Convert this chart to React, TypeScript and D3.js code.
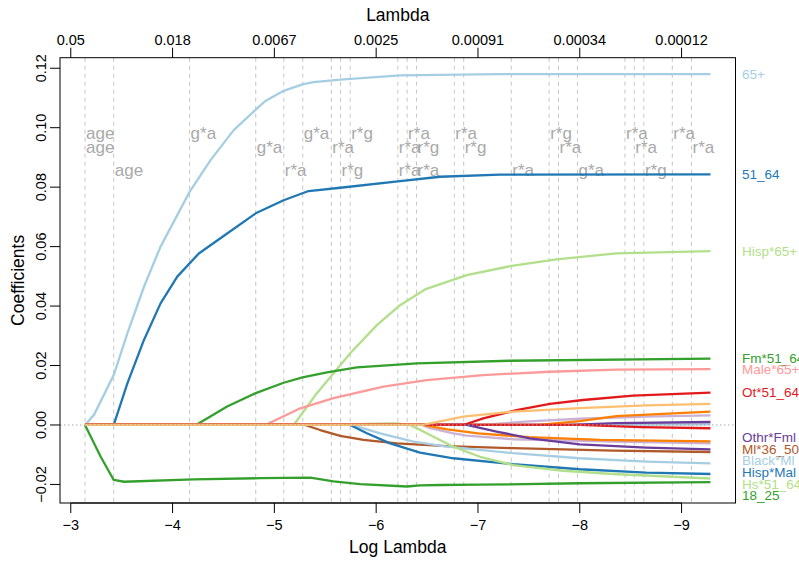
import React from "react";
import * as d3 from "d3";

// ---------- data ----------
const seriesNames: (string | null)[] = [
  "65+", "51_64", "Hisp*65+", "Fm*51_64", "Male*65+", "18_25",
  "Ml*36_50", "Black*Ml", "Hisp*Mal", "Hs*51_64",
  null, null, null, null, null, null, null,
  "Othr*Fml", "Ot*51_64", null,
];

const seriesColors = [
  "#a6cee3", "#1f78b4", "#b2df8a", "#33a02c", "#fb9a99", "#33a02c",
  "#b15928", "#a6cee3", "#1f78b4", "#b2df8a",
  "#a6cee3", "#cab2d6", "#6a3d9a", "#cab2d6", "#ff7f00", "#ff7f00", "#e31a1c",
  "#6a3d9a", "#e31a1c", "#fdbf6f",
];

// [log(lambda), coefficient]
const s65plus: [number, number][] = [[-3.14, 0], [-3.228, 0.0034], [-3.422, 0.0168], [-3.556, 0.0308], [-3.719, 0.0465], [-3.882, 0.06], [-4.167, 0.0784], [-4.373, 0.0891], [-4.601, 0.0992], [-4.817, 0.1061], [-4.912, 0.109], [-5.091, 0.1124], [-5.275, 0.1146], [-5.385, 0.1153], [-5.647, 0.1162], [-6.235, 0.1176], [-7.216, 0.118], [-9.284, 0.118]];
const s51_64: [number, number][] = [[-3.14, 0], [-3.422, 0], [-3.556, 0.014], [-3.719, 0.0286], [-3.882, 0.0409], [-4.046, 0.0499], [-4.258, 0.0577], [-4.536, 0.0644], [-4.817, 0.0712], [-5.091, 0.0756], [-5.336, 0.0787], [-5.647, 0.0798], [-6.235, 0.082], [-6.627, 0.0835], [-7.216, 0.0842], [-9.284, 0.0843]];
const sHisp65: [number, number][] = [[-3.14, 0], [-5.19, 0], [-5.418, 0.0107], [-5.745, 0.0241], [-6.007, 0.0336], [-6.235, 0.0403], [-6.48, 0.0456], [-6.889, 0.0504], [-7.314, 0.0534], [-7.771, 0.0557], [-8.36, 0.0577], [-9.284, 0.0585]];
const sFm51_64: [number, number][] = [[-3.14, 0], [-4.23, 0], [-4.536, 0.0062], [-4.817, 0.0107], [-5.091, 0.0142], [-5.277, 0.016], [-5.517, 0.0177], [-5.81, 0.0194], [-6.4, 0.0207], [-7.31, 0.0216], [-9.284, 0.0223]];
const sMale65: [number, number][] = [[-3.14, 0], [-4.912, 0], [-5.255, 0.0056], [-5.581, 0.009], [-6.072, 0.0129], [-6.497, 0.0151], [-7.052, 0.0168], [-7.706, 0.0179], [-8.36, 0.0186], [-9.284, 0.0188]];
const s18_25: [number, number][] = [[-3.14, 0], [-3.294, -0.0107], [-3.422, -0.0185], [-3.523, -0.0191], [-4.209, -0.0183], [-4.863, -0.0179], [-5.353, -0.0177], [-5.581, -0.019], [-5.843, -0.0199], [-6.301, -0.0207], [-6.431, -0.0203], [-6.627, -0.0202], [-7.02, -0.0201], [-8.0, -0.0196], [-9.284, -0.0192]];
const sMl36_50: [number, number][] = [[-3.14, 0], [-5.3, 0], [-5.45, -0.0017], [-5.647, -0.0037], [-5.876, -0.005], [-6.203, -0.0062], [-6.693, -0.0071], [-7.346, -0.0078], [-8.327, -0.0086], [-9.284, -0.0091]];
const sBlackMl: [number, number][] = [[-3.14, 0], [-5.76, 0], [-6.04, -0.0028], [-6.366, -0.0056], [-6.693, -0.0073], [-7.346, -0.0095], [-8.0, -0.0112], [-8.654, -0.0123], [-9.284, -0.0129]];
const sHispMal: [number, number][] = [[-3.14, 0], [-5.745, 0], [-5.909, -0.0028], [-6.137, -0.0062], [-6.431, -0.0093], [-6.758, -0.0112], [-7.346, -0.0132], [-8.0, -0.0149], [-8.654, -0.016], [-9.284, -0.0165]];
const sHs51_64: [number, number][] = [[-3.14, 0], [-5.745, 0], [-5.9, 0.0004], [-6.2, 0.0005], [-6.33, 0], [-6.4, -0.0011], [-6.53, -0.0034], [-6.758, -0.0073], [-7.02, -0.0107], [-7.346, -0.0135], [-7.836, -0.0154], [-8.327, -0.0165], [-9.284, -0.018]];
const sNearZero: [number, number][] = [[-3.14, 0], [-8.2, 0], [-9.284, 0.0002]];
const sLtPurNeg: [number, number][] = [[-3.14, 0], [-6.45, 0], [-6.53, -0.0011], [-6.76, -0.0028], [-6.89, -0.0036], [-7.346, -0.0048], [-8.33, -0.0056], [-9.284, -0.0062]];
const sPurPos: [number, number][] = [[-3.14, 0], [-7.9, 0], [-8.36, 0.0006], [-9.284, 0.001]];
const sLtPurPos: [number, number][] = [[-3.14, 0], [-7.02, 0], [-7.5, 0.0012], [-8.0, 0.0021], [-8.654, 0.0028], [-9.284, 0.0032]];
const sOrNeg: [number, number][] = [[-3.14, 0], [-6.45, 0], [-6.7, -0.0015], [-7.0, -0.0028], [-7.5, -0.0041], [-8.2, -0.005], [-9.284, -0.0055]];
const sOrPos: [number, number][] = [[-3.14, 0], [-7.6, 0], [-8.0, 0.0013], [-8.36, 0.003], [-9.284, 0.0045]];
const sRedNeg: [number, number][] = [[-3.14, 0], [-8.0, 0], [-8.6, -0.0007], [-9.284, -0.0011]];
const sOthrFml: [number, number][] = [[-6.45, 0], [-6.889, 0], [-7.183, -0.0022], [-7.51, -0.0045], [-8.0, -0.0065], [-8.654, -0.0076], [-9.284, -0.0082]];
const sOt51_64: [number, number][] = [[-3.14, 0], [-6.856, 0], [-7.052, 0.0022], [-7.379, 0.005], [-7.706, 0.0071], [-8.032, 0.0084], [-8.523, 0.0099], [-9.284, 0.0109]];
const sLtOrPos: [number, number][] = [[-3.14, 0], [-6.46, 0], [-6.856, 0.0028], [-7.346, 0.0045], [-8.0, 0.0057], [-8.654, 0.0066], [-9.284, 0.0071]];

const seriesPoints = [
  s65plus, s51_64, sHisp65, sFm51_64, sMale65, s18_25,
  sMl36_50, sBlackMl, sHispMal, sHs51_64,
  sNearZero, sLtPurNeg, sPurPos, sLtPurPos, sOrNeg, sOrPos, sRedNeg,
  sOthrFml, sOt51_64, sLtOrPos,
];

const xTickValues = [-3, -4, -5, -6, -7, -8, -9];
const yTickValues = [-0.02, 0, 0.02, 0.04, 0.06, 0.08, 0.1, 0.12];

const annotLambda = [-3.14, -3.14, -3.422, -4.167, -4.817, -5.093, -5.279, -5.559, -5.65, -5.745, -6.213, -6.213, -6.304, -6.397, -6.397, -6.768, -6.86, -7.327, -7.699, -7.791, -7.977, -8.444, -8.536, -8.63, -8.909, -9.098];
const annotText = ["age", "age", "age", "g*a", "g*a", "r*a", "g*a", "r*a", "r*g", "r*g", "r*a", "r*a", "r*a", "r*g", "r*a", "r*a", "r*g", "r*a", "r*g", "r*a", "g*a", "r*a", "r*a", "r*g", "r*a", "r*a"];

// ---------- layout ----------
const W = 799;
const H = 561;
const box = { left: 60, right: 735.5, top: 57.7, bottom: 503 };
const FONT = "'Liberation Sans', Arial, Helvetica, sans-serif";
const annotRowOffsets = [75.6, 89.6, 112.3];

function fmtY(v: number) {
  const s = v.toFixed(2);
  return s.startsWith("-") ? "\u2212" + s.slice(1) : s;
}
function fmtX(v: number) {
  const s = String(v);
  return s.startsWith("-") ? "\u2212" + s.slice(1) : s;
}

export default function App() {
  const allX = seriesPoints.flat().map((p) => p[0]);
  const allY = seriesPoints.flat().map((p) => p[1]);
  const [x0, x1] = d3.extent(allX) as [number, number];
  const [y0, y1] = d3.extent(allY) as [number, number];
  const xpad = (x1 - x0) * 0.04;
  const ypad = (y1 - y0) * 0.04;

  const x = d3.scaleLinear().domain([x1 + xpad, x0 - xpad]).range([box.left, box.right]);
  const y = d3.scaleLinear().domain([y0 - ypad, y1 + ypad]).range([box.bottom, box.top]);

  const line = d3
    .line<[number, number]>()
    .x((d) => x(d[0]))
    .y((d) => y(d[1]));

  // right labels with simple repel
  const labs = seriesNames
    .map((n, i) => ({ n, i, y0: y(seriesPoints[i][seriesPoints[i].length - 1][1]) }))
    .filter((d) => d.n !== null)
    .sort((a, b) => a.y0 - b.y0)
    .map((d) => ({ ...d, y: d.y0 }));
  const gap = 11.6;
  for (let it = 0; it < 400; it++) {
    for (let k = 0; k < labs.length - 1; k++) {
      const d = labs[k + 1].y - labs[k].y;
      if (d < gap) {
        const push = (gap - d) / 2;
        labs[k].y -= push;
        labs[k + 1].y += push;
      }
    }
  }

  const uniqueAnnot = Array.from(new Set(annotLambda));

  return (
    <svg
      width={W}
      height={H}
      style={{ position: "absolute", left: 0, top: 0, background: "#fff" }}
      fontFamily={FONT}
    >
      <rect x={0} y={0} width={W} height={H} fill="#fff" />
      {uniqueAnnot.map((l, i) => (
        <line
          key={"v" + i}
          x1={x(l)}
          x2={x(l)}
          y1={box.top}
          y2={box.bottom}
          stroke="#c4c4c4"
          strokeWidth={1}
          strokeDasharray="4,4"
        />
      ))}
      {annotLambda.map((l, i) => (
        <text
          key={"a" + i}
          x={x(l) + 1}
          y={box.top + annotRowOffsets[i % 3]}
          dy="0.35em"
          fontSize={17}
          fill="#a9a9a9"
        >
          {annotText[i]}
        </text>
      ))}
      {seriesPoints.map((pts, i) => (
        <path
          key={"s" + i}
          d={line(pts) || ""}
          fill="none"
          stroke={seriesColors[i]}
          strokeWidth={2.3}
          strokeLinejoin="round"
        />
      ))}
      <line
        x1={box.left}
        x2={box.right}
        y1={y(0)}
        y2={y(0)}
        stroke="#a8a8a8"
        strokeWidth={1}
        strokeDasharray="1.5,2.5"
      />
      <rect
        x={box.left}
        y={box.top}
        width={box.right - box.left}
        height={box.bottom - box.top}
        fill="none"
        stroke="#000"
        strokeWidth={1}
      />
      {xTickValues.map((v) => (
        <g key={"bx" + v}>
          <line x1={x(v)} x2={x(v)} y1={box.bottom} y2={box.bottom + 10} stroke="#000" />
          <text x={x(v)} y={525} dy="0.35em" textAnchor="middle" fontSize={14.5}>
            {fmtX(v)}
          </text>
        </g>
      ))}
      <line x1={x(-3)} x2={x(-9)} y1={box.bottom} y2={box.bottom} stroke="#000" />
      <text x={(box.left + box.right) / 2} y={547} dy="0.35em" textAnchor="middle" fontSize={17.5}>
        Log Lambda
      </text>
      {xTickValues.map((v) => (
        <g key={"tx" + v}>
          <line x1={x(v)} x2={x(v)} y1={box.top} y2={box.top - 10} stroke="#000" />
          <text x={x(v)} y={40} dy="0.35em" textAnchor="middle" fontSize={14.5}>
            {String(Number(Math.exp(v).toPrecision(2)))}
          </text>
        </g>
      ))}
      <text x={(box.left + box.right) / 2} y={15} dy="0.35em" textAnchor="middle" fontSize={17.5}>
        Lambda
      </text>
      {yTickValues.map((v) => (
        <g key={"ly" + v}>
          <line x1={box.left} x2={box.left - 10} y1={y(v)} y2={y(v)} stroke="#000" />
          <text
            transform={`translate(41,${y(v)}) rotate(-90)`}
            dy="0.35em"
            textAnchor="middle"
            fontSize={14.5}
          >
            {fmtY(v)}
          </text>
        </g>
      ))}
      <text
        transform={`translate(18,${(box.top + box.bottom) / 2}) rotate(-90)`}
        dy="0.35em"
        textAnchor="middle"
        fontSize={17.5}
      >
        Coefficients
      </text>
      {labs.map((d) => (
        <text key={"r" + d.i} x={742} y={d.y} dy="0.35em" fontSize={13.5} fill={seriesColors[d.i]}>
          {d.n}
        </text>
      ))}
    </svg>
  );
}
